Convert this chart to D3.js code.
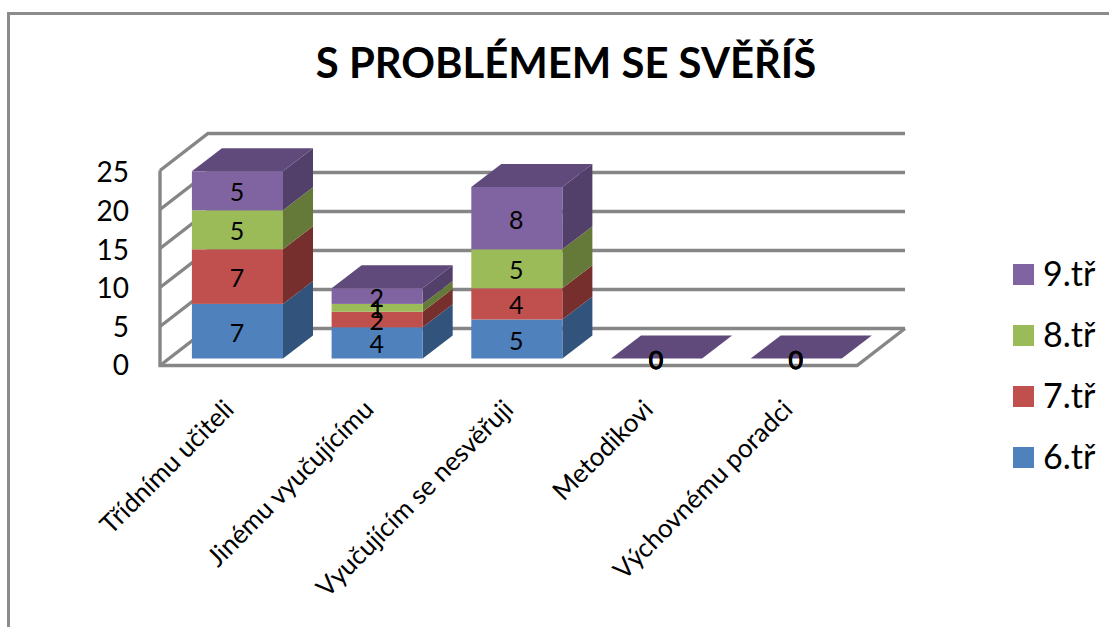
<!DOCTYPE html>
<html><head><meta charset="utf-8">
<script src="https://cdn.jsdelivr.net/npm/d3@7"></script>
<style>html,body{margin:0;padding:0;background:#fff}svg{display:block}text{font-family:Lato,"Noto Sans",sans-serif;fill:#000}</style>
</head><body><svg id="c" width="1109" height="627"></svg>
<script>
const title = "S PROBLÉMEM SE SVĚŘÍŠ";
const categories = ["Třídnímu učiteli","Jinému vyučujícímu","Vyučujícím se nesvěřuji","Metodikovi","Výchovnému poradci"];
const seriesNames = ["6.tř","7.tř","8.tř","9.tř"];
const s6 = [7,4,5,0,0];
const s7 = [7,2,4,0,0];
const s8 = [5,1,5,0,0];
const s9 = [5,2,8,0,0];
const yTicks = [0,5,10,15,20,25];
const frontColors = ["#4F81BD","#C0504D","#9BBB59","#8064A2"];
const sideColors  = ["#32547C","#772F2D","#657A38","#53406A"];
const topColor = "#604A7B";
const gridColor = "#868686";

const svg = d3.select("#c");
const rows = categories.map((c,i)=>({cat:c,[seriesNames[0]]:s6[i],[seriesNames[1]]:s7[i],[seriesNames[2]]:s8[i],[seriesNames[3]]:s9[i]}));
const stacked = d3.stack().keys(seriesNames)(rows);

// chart frame (only top and left edges are in view)
svg.append("path").attr("d","M8.5 627V13.5H1109").attr("fill","none").attr("stroke","#8c8c8c").attr("stroke-width",3);

svg.append("text").attr("x",566).attr("y",78).attr("text-anchor","middle")
  .attr("font-size",41.8).attr("font-weight",700).text(title);

// 3D walls
const wallDx = 48, wallDy = -37;
const yWall = d3.scaleLinear().domain([0,25]).range([365.5,170.5]);
const floorRight = 857;
const grid = svg.append("g").attr("fill","none").attr("stroke",gridColor).attr("stroke-width",3.4).attr("stroke-linejoin","miter");
grid.selectAll("path.g").data(yTicks).join("path").attr("class","g")
  .attr("d",t=>{
    const y=yWall(t);
    const end=160+wallDx+(floorRight-160);
    return `M160 ${y}L${160+wallDx} ${y+wallDy}H${end}`;
  });
grid.append("path").attr("d",`M160 ${yWall(25)}V${yWall(0)}H${floorRight}L${floorRight+wallDx} ${yWall(0)+wallDy}`);

// y axis labels
const yLabel = d3.scaleLinear().domain([0,25]).range([366,173]);
const ya = svg.append("g").attr("transform","translate(129,0)")
  .call(d3.axisLeft(yLabel).tickValues(yTicks).tickSize(0).tickPadding(0));
ya.select(".domain").remove();
ya.selectAll("text").attr("font-size",28).style("font-family","Lato,'Noto Sans',sans-serif").attr("fill","#000");

// stacked 3D bars
const x = d3.scaleBand().domain(categories).range([167.6,866.1]).paddingInner(0.348).paddingOuter(0.174);
const y = d3.scaleLinear().domain([0,25]).range([358.5,163.5]);
const dx = 30, dy = -23;
const bars = svg.append("g");
stacked.forEach((layer,si)=>{
  const g = bars.append("g");
  layer.forEach(d=>{
    const cat=d.data.cat, x0=x(cat), x1=x0+x.bandwidth(), yb=y(d[0]), yt=y(d[1]);
    g.append("path").attr("fill",sideColors[si])
      .attr("d",`M${x1} ${yb}L${x1+dx} ${yb+dy}V${yt+dy}L${x1} ${yt}Z`);
    g.append("rect").attr("x",x0).attr("y",yt).attr("width",x.bandwidth()).attr("height",yb-yt).attr("fill",frontColors[si]);
    if(si===seriesNames.length-1){
      g.append("path").attr("fill",topColor)
        .attr("d",`M${x0} ${yt}L${x0+dx} ${yt+dy}H${x1+dx}L${x1} ${yt}Z`);
    }
  });
});

// data labels
const labels = svg.append("g").attr("text-anchor","middle").attr("font-size",25);
stacked.forEach(layer=>{
  layer.forEach(d=>{
    const v=d[1]-d[0];
    labels.append("text").attr("x",x(d.data.cat)+x.bandwidth()/2-0.5)
      .attr("y",(y(d[0])+y(d[1]))/2+10.5).attr("stroke",v===0?"#000":"none").attr("stroke-width",v===0?0.35:0).text(v);
  });
});

// category labels
const cats = svg.append("g").attr("text-anchor","end").attr("font-size",26);
categories.forEach(c=>{
  const ax=x(c)+x.bandwidth()/2-2, ay=411;
  cats.append("text").attr("transform",`translate(${ax},${ay}) rotate(-45)`).text(c);
});

// legend
const legY = d3.scalePoint().domain(seriesNames.slice().reverse()).range([274.5,457.5]);
const leg = svg.append("g");
seriesNames.forEach((n,i)=>{
  leg.append("rect").attr("x",1013).attr("y",legY(n)-10.5).attr("width",21).attr("height",21).attr("fill",frontColors[i]);
  leg.append("text").attr("x",1043).attr("y",legY(n)+11.5).attr("font-size",34).text(n);
});
</script></body></html>
